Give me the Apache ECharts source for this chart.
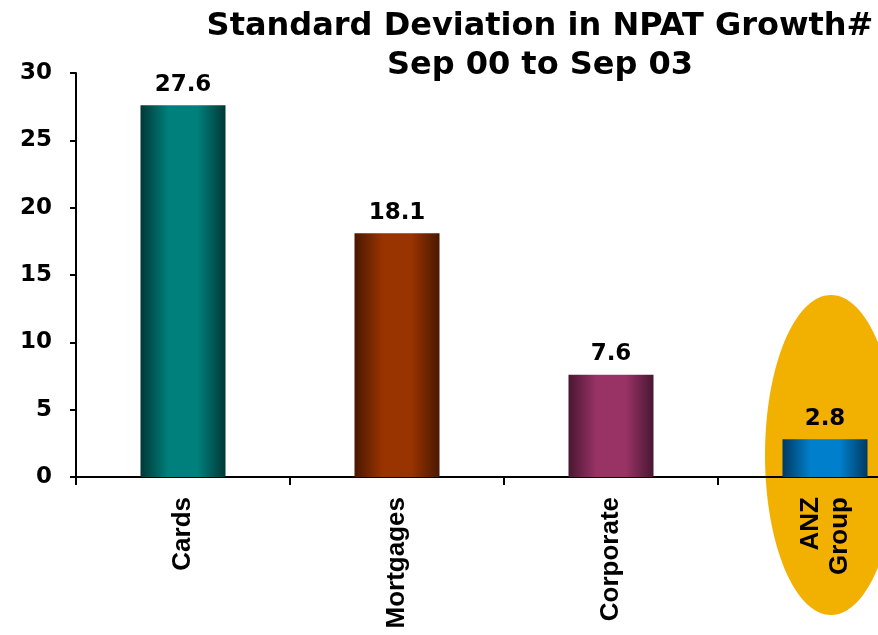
<!DOCTYPE html>
<html>
<head>
<meta charset="utf-8">
<script src="https://cdn.jsdelivr.net/npm/echarts@6/dist/echarts.min.js"></script>
<style>html,body{margin:0;padding:0;background:#fff;overflow:hidden;width:878px;height:635px}#c{width:932px;height:635px}</style>
</head>
<body>
<div id="c"></div>
<script>
var categories = ['Cards', 'Mortgages', 'Corporate', 'ANZ\nGroup'];
var values = [27.6, 18.1, 7.6, 2.8];
var yTicks = [0, 5, 10, 15, 20, 25, 30];
var barColors = [
  ['#003836', '#00807C'],
  ['#4A1800', '#993300'],
  ['#4A1632', '#993366'],
  ['#003A62', '#0080CC']
];

function grad(c) {
  return new echarts.graphic.LinearGradient(0, 0, 1, 0, [
    {offset: 0, color: c[0]},
    {offset: 0.33, color: c[1]},
    {offset: 0.67, color: c[1]},
    {offset: 1, color: c[0]}
  ]);
}

var chart = echarts.init(document.getElementById('c'), null, {renderer: 'canvas'});
var option = {
  animation: false,
  backgroundColor: '#ffffff',
  title: {
    text: 'Standard Deviation in NPAT Growth#\nSep 00 to Sep 03',
    left: 535,
    top: 2,
    textAlign: 'center',
    textStyle: {
      fontFamily: 'DejaVu Sans',
      fontWeight: 'bold',
      fontSize: 32,
      lineHeight: 39,
      color: '#000'
    }
  },
  grid: {left: 76, right: 0, top: 73, bottom: 158, containLabel: false},
  xAxis: {
    type: 'category',
    data: categories,
    axisLine: {lineStyle: {color: '#000', width: 2}},
    axisTick: {show: true, length: 8, lineStyle: {color: '#000', width: 2}, alignWithLabel: false},
    axisLabel: {
      rotate: 90,
      margin: 20,
      interval: 0,
      fontFamily: 'Liberation Sans',
      fontWeight: 'bold',
      fontSize: 26,
      lineHeight: 29,
      color: '#000'
    },
    splitLine: {show: false}
  },
  yAxis: {
    type: 'value',
    min: yTicks[0],
    max: yTicks[yTicks.length - 1],
    interval: yTicks[1] - yTicks[0],
    axisLine: {show: true, lineStyle: {color: '#000', width: 2}},
    axisTick: {show: true, length: 6, lineStyle: {color: '#000', width: 2}},
    axisLabel: {
      margin: 24,
      fontFamily: 'DejaVu Sans',
      fontWeight: 'bold',
      fontSize: 23,
      color: '#000'
    },
    splitLine: {show: false}
  },
  series: [{
    type: 'bar',
    barWidth: 85,
    z: 5,
    data: values.map(function (v, i) {
      return {value: v, itemStyle: {color: grad(barColors[i])}};
    }),
    label: {
      show: true,
      position: 'top',
      distance: 9,
      fontFamily: 'DejaVu Sans',
      fontWeight: 'bold',
      fontSize: 23,
      color: '#000',
      formatter: function (p) { return p.value.toFixed(1); }
    }
  }]
};
chart.setOption(option);

// highlight ellipse behind the ANZ Group bar
var cx = chart.convertToPixel({xAxisIndex: 0}, categories[3]);
var y0 = chart.convertToPixel({yAxisIndex: 0}, 0);
chart.setOption({
  graphic: [{
    type: 'ellipse',
    z: -10,
    shape: {cx: cx + 6, cy: y0 - 22, rx: 66, ry: 160},
    style: {fill: '#F2B000'}
  }]
});
</script>
</body>
</html>
